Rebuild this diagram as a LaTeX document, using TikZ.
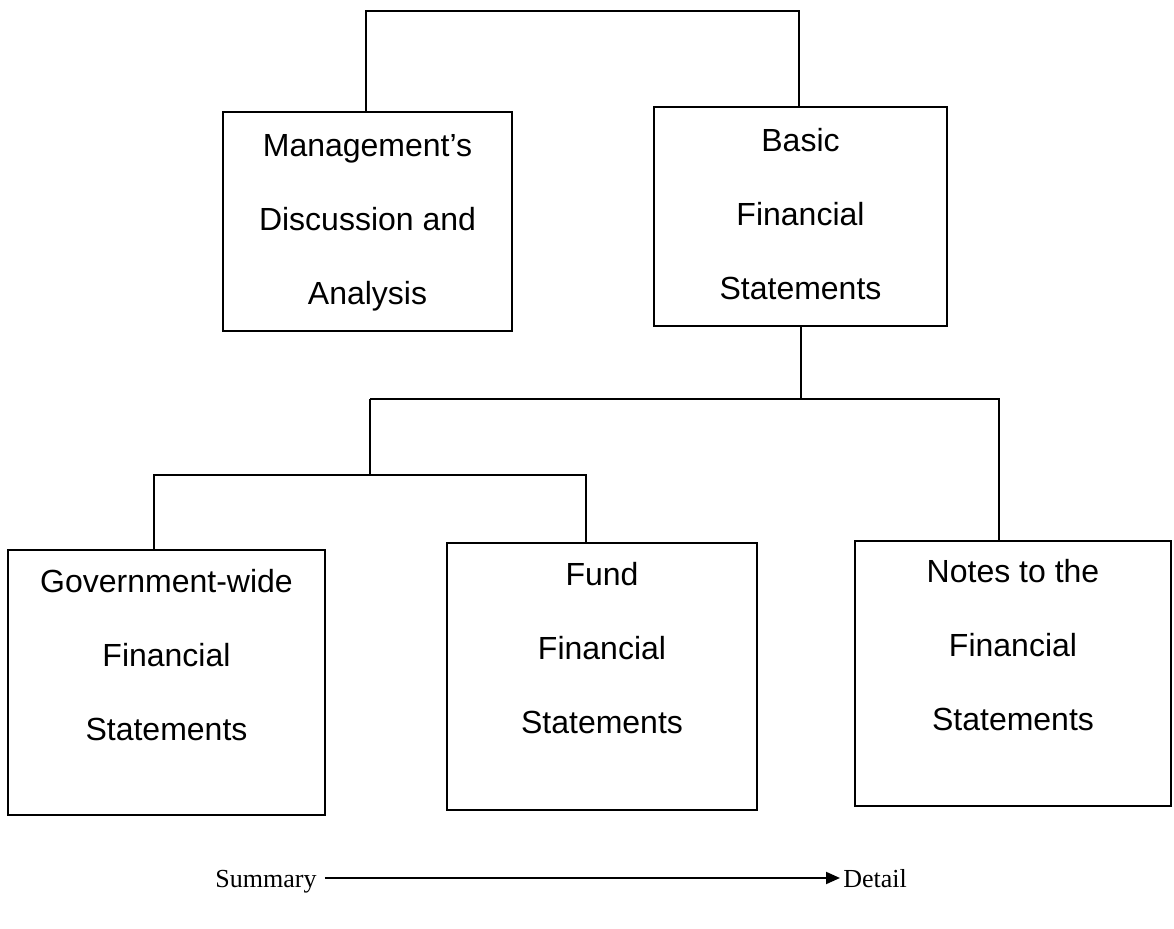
\documentclass[tikz,border=0pt]{standalone}
\usepackage{fontspec}
\setmainfont{Liberation Sans}
\newfontfamily\serifface{Liberation Serif}
\usetikzlibrary{arrows.meta}
\begin{document}
\begin{tikzpicture}[x=0.5pt,y=-0.5pt,
  box/.style={draw, line width=1.4pt, rectangle, inner sep=0pt},
  lbl/.style={font=\fontsize{16pt}{37pt}\selectfont, align=center, anchor=north, inner sep=0pt},
  scale lbl/.style={font=\serifface\fontsize{13pt}{15pt}\selectfont, inner sep=0pt, anchor=base west},
  conn/.style={line width=1pt}]
\useasboundingbox (0,0) rectangle (1174,929);

% boxes
\node[box, minimum width=144.5pt, minimum height=109.5pt] (b1) at (367.5,221.5) {};
\node[box, minimum width=146.5pt, minimum height=109.5pt] (b2) at (800.5,216.5) {};
\node[box, minimum width=158.5pt, minimum height=132.5pt] (b3) at (166.5,682.5) {};
\node[box, minimum width=155pt, minimum height=133.5pt] (b4) at (602,676.5) {};
\node[box, minimum width=158pt, minimum height=132.5pt] (b5) at (1013,673.5) {};

% texts
\node[lbl] (t1) at (367.5,134.5) {Management's\\Discussion and\\Analysis};
\node[lbl] (t2) at (800.5,127.5) {Basic\\Financial\\Statements};
\node[lbl] (t3) at (166.5,568.5) {Government-wide\\Financial\\Statements};
\node[lbl] (t4) at (602,561.5) {Fund\\Financial\\Statements};
\node[lbl] (t5) at (1013,558.5) {Notes to the\\Financial\\Statements};

% connectors
\coordinate (tL) at (366,11);
\coordinate (tR) at (799,11);
\draw[conn] (b1.north -| tL) -- (tL) -- (tR) -- (b2.north -| tR);

\coordinate (m1L) at (370,399);
\coordinate (m1R) at (999,399);
\draw[conn] (b2.south) -- (b2.south |- m1L);
\draw[conn] (m1L) -- (m1R) -- (b5.north -| m1R);

\coordinate (m2C) at (370,475);
\coordinate (m2L) at (154,475);
\coordinate (m2R) at (586,475);
\draw[conn] (m1L) -- (m2C);
\draw[conn] (b3.north -| m2L) -- (m2L) -- (m2R) -- (b4.north -| m2R);

% scale
\node[scale lbl] (sum) at (215,888) {Summary};
\node[scale lbl] (det) at (843,888) {Detail};
\draw[conn, -{Triangle[length=7pt,width=6pt]}] ([shift={(8,-10)}]sum.base east) -- ([shift={(-3,-10)}]det.base west);
\end{tikzpicture}
\end{document}
